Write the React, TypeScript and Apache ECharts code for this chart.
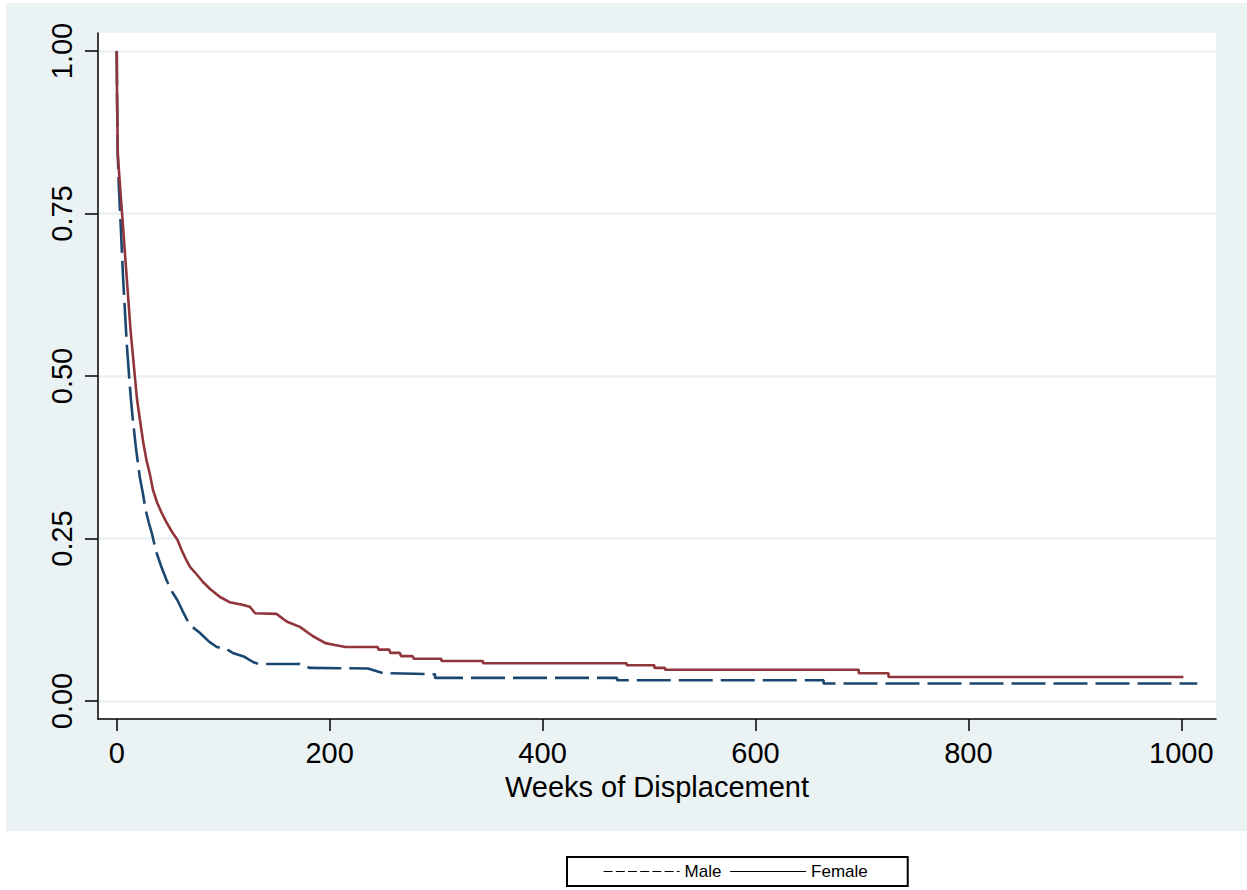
import React, { useEffect, useRef } from 'react';
import * as echarts from 'echarts';

// Kaplan-Meier survival curves by sex: vertices of each curve
// (a repeated week marks a vertical drop at that event time)
const maleWeeks = [0, 0.3, 1, 2, 3.5, 6, 9.4, 11.6, 13, 15, 18, 21.6, 24.5, 27, 30, 33, 37, 42, 47, 52, 57, 62, 66, 71, 78, 87, 94, 103, 109, 120, 128, 133, 172, 175, 181, 236, 250, 280, 299, 299, 470, 470, 664, 664, 1015];
const maleSurvival = [1.0, 0.93, 0.84, 0.79, 0.74, 0.65, 0.55, 0.5, 0.47, 0.435, 0.39, 0.345, 0.32, 0.295, 0.275, 0.258, 0.23, 0.206, 0.185, 0.168, 0.155, 0.138, 0.125, 0.114, 0.105, 0.091, 0.083, 0.08, 0.074, 0.068, 0.06, 0.057, 0.057, 0.055, 0.051, 0.05, 0.043, 0.042, 0.041, 0.0355, 0.0355, 0.032, 0.032, 0.027, 0.027];

const femaleWeeks = [0, 0.3, 1, 5, 9, 13, 17, 19, 22, 25, 28, 31, 34, 38, 42, 47, 52, 57, 61, 65, 69, 75, 81, 88, 97, 106, 118, 125, 130, 150, 160, 172, 184, 196, 205, 215, 245, 246, 256, 257, 266, 267, 278, 279, 305, 305, 344, 344, 479, 479, 505, 505, 515, 515, 697, 697, 725, 725, 1002];
const femaleSurvival = [1.0, 0.93, 0.84, 0.75, 0.66, 0.57, 0.5, 0.465, 0.43, 0.397, 0.37, 0.35, 0.325, 0.305, 0.29, 0.274, 0.26, 0.248, 0.232, 0.218, 0.206, 0.195, 0.183, 0.172, 0.16, 0.152, 0.148, 0.145, 0.135, 0.134, 0.122, 0.114, 0.1, 0.089, 0.086, 0.083, 0.083, 0.079, 0.079, 0.074, 0.074, 0.069, 0.069, 0.065, 0.065, 0.0615, 0.0615, 0.058, 0.058, 0.055, 0.055, 0.051, 0.051, 0.048, 0.048, 0.0426, 0.0426, 0.037, 0.037];

const xTickValues = [0, 200, 400, 600, 800, 1000];
const yTickValues = [0, 0.25, 0.5, 0.75, 1];
const xTitle = 'Weeks of Displacement';
const seriesNames = ['Male', 'Female'];

const FONT = '"Liberation Sans", Arial, Helvetica, sans-serif';
const REGION = '#eaf2f3';
const NAVY = '#1a476f';
const MAROON = '#90353b';

const pairs = (xs: number[], ys: number[]) => xs.map((x, i) => [x, ys[i]]);

export default function App() {
  const ref = useRef<HTMLDivElement>(null);

  useEffect(() => {
    const chart = echarts.init(ref.current!, null, { renderer: 'svg' });
    chart.setOption({
      animation: false,
      backgroundColor: REGION,
      graphic: [
        // white page outside the graph region
        { type: 'rect', silent: true, shape: { x: 0, y: 0, width: 1247, height: 3 }, style: { fill: '#fff' } },
        { type: 'rect', silent: true, shape: { x: 0, y: 0, width: 6, height: 831 }, style: { fill: '#fff' } },
        { type: 'rect', silent: true, shape: { x: 0, y: 831, width: 1247, height: 59 }, style: { fill: '#fff' } },
      ],
      grid: {
        left: 98,
        top: 33,
        right: 31,
        bottom: 171,
        show: true,
        backgroundColor: '#fff',
        borderWidth: 0,
      },
      legend: {
        left: 567,
        top: 857,
        orient: 'horizontal',
        backgroundColor: '#fff',
        borderColor: '#000',
        borderWidth: 2,
        borderRadius: 0,
        padding: [6, 40, 6, 36],
        itemWidth: 76,
        itemHeight: 14,
        itemGap: 8,
        selectedMode: false,
        itemStyle: { opacity: 0, borderWidth: 0 },
        textStyle: { fontFamily: FONT, fontSize: 17, color: '#000' },
        data: [
          { name: seriesNames[0], lineStyle: { color: '#000', width: 1.2, type: [9, 3.2] } },
          { name: seriesNames[1], lineStyle: { color: '#000', width: 1.2, type: 'solid' } },
        ],
      },
      xAxis: {
        type: 'value',
        min: -17.6,
        max: 1032.6,
        name: xTitle,
        nameLocation: 'middle',
        nameGap: 47.5,
        nameTextStyle: { fontFamily: FONT, fontSize: 29, color: '#000' },
        axisLine: { show: true, onZero: false, lineStyle: { color: '#000', width: 1.5 } },
        axisTick: { show: true, length: 12, customValues: xTickValues, lineStyle: { color: '#000', width: 1.5 } },
        axisLabel: {
          customValues: xTickValues,
          margin: 19.5,
          fontFamily: FONT,
          fontSize: 29,
          color: '#000',
          formatter: (v: number) => String(v),
        },
        splitLine: { show: false },
      },
      yAxis: {
        type: 'value',
        min: -0.0277,
        max: 1.0277,
        axisLine: { show: true, onZero: false, lineStyle: { color: '#000', width: 1.5 } },
        axisTick: { show: true, length: 13, customValues: yTickValues, lineStyle: { color: '#000', width: 1.5 } },
        axisLabel: {
          customValues: yTickValues,
          rotate: 90,
          margin: 22,
          fontFamily: FONT,
          fontSize: 29,
          color: '#000',
          formatter: (v: number) => v.toFixed(2),
        },
        splitLine: { show: true, lineStyle: { color: REGION, width: 2.5 } },
      },
      series: [
        {
          name: seriesNames[0],
          type: 'line',
          symbol: 'none',
          data: pairs(maleWeeks, maleSurvival),
          lineStyle: { color: NAVY, width: 2.6, type: [34, 8] },
          itemStyle: { color: NAVY },
          z: 3,
        },
        {
          name: seriesNames[1],
          type: 'line',
          symbol: 'none',
          data: pairs(femaleWeeks, femaleSurvival),
          lineStyle: { color: MAROON, width: 2.6 },
          itemStyle: { color: MAROON },
          z: 4,
        },
      ],
    });
    return () => chart.dispose();
  }, []);

  return (
    <div
      ref={ref}
      style={{ position: 'absolute', left: 0, top: 0, width: 1247, height: 890 }}
    />
  );
}
